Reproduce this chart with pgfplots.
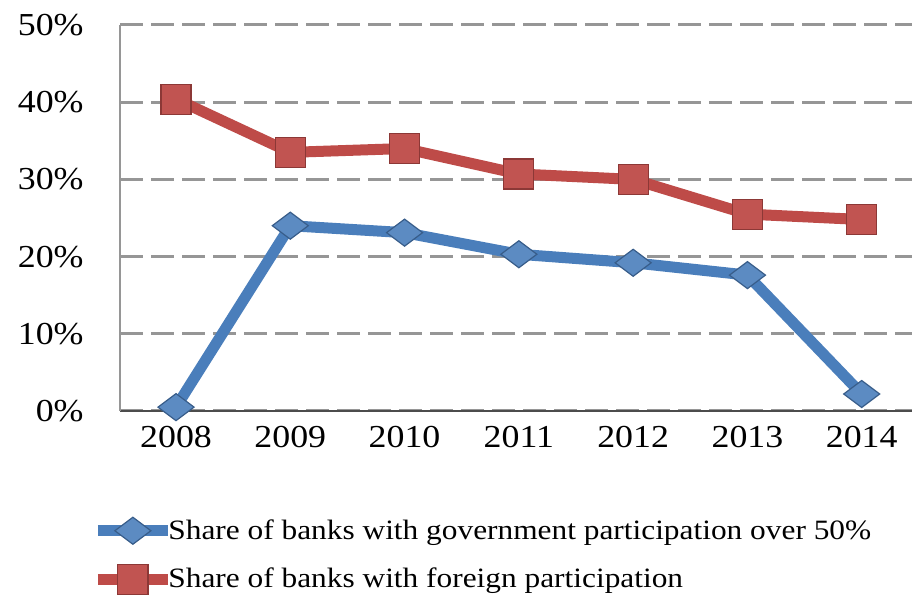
\documentclass[border=0pt]{standalone}
\usepackage{fontspec}
\setmainfont{Liberation Serif}[FakeStretch=1.12]
\usepackage{pgfplots}
\usetikzlibrary{calc}
\pgfplotsset{compat=1.18}
\definecolor{gblue}{HTML}{4A7EBB}
\definecolor{gbluedk}{HTML}{385D8A}
\definecolor{gred}{HTML}{BE4B48}
\definecolor{greddk}{HTML}{8C3836}
\definecolor{gridgray}{HTML}{969696}
\begin{document}
\begin{tikzpicture}
\begin{axis}[name=ax, scale only axis, width=396pt, height=193pt,
  xmin=-0.49, xmax=6.44, ymin=0, ymax=50,
  axis x line=bottom, axis y line=left,
  x axis line style={-, draw=black!70, line width=0.8pt},
  y axis line style={-, draw=gridgray, line width=1pt},
  xtick={0,...,6}, xticklabels={2008,2009,2010,2011,2012,2013,2014},
  ytick={0,10,20,30,40,50}, yticklabels={0\%,10\%,20\%,30\%,40\%,50\%},
  major tick length=0pt,
  tick label style={font=\fontsize{16}{16}\selectfont, inner sep=0pt},
  yticklabel style={xshift=-18pt},
  xticklabel style={yshift=-7.5pt},
  ymajorgrids, major grid style={draw=gridgray, line width=1.5pt, dash pattern=on 11.5pt off 4pt},
  clip=false,
  legend style={at={(axis description cs:0,0)}, anchor=north west, xshift=-14pt, yshift=-52pt,
    draw=none, fill=none, inner sep=0pt, row sep=9pt, font=\fontsize{14}{14}\selectfont,
    cells={anchor=west, inner xsep=0.5pt}},
  legend cell align=left,
  legend image code/.code={\draw[mark repeat=2,mark phase=2,#1] plot coordinates {(0pt,0pt) (17.5pt,0pt) (35pt,0pt)};},
]
\addplot[gblue, line width=5.5pt, mark=diamond*, mark size=9pt,
  mark options={rotate=90, fill=gblue!90!white, draw=gbluedk, line width=0.6pt}]
  coordinates {(0,0.5) (1,24) (2,23.1) (3,20.3) (4,19.2) (5,17.6) (6,2.2)};
\addlegendentry{\hspace*{-4.5pt}Share of banks with government participation over 50\%}
\addplot[gred, line width=5.5pt, mark=square*, mark size=7.5pt,
  mark options={fill=gred!95!white, draw=greddk, line width=0.6pt}]
  coordinates {(0,40.4) (1,33.5) (2,34) (3,30.7) (4,30) (5,25.5) (6,24.8)};
\addlegendentry{\hspace*{-4.5pt}Share of banks with foreign participation}
\end{axis}
\pgfresetboundingbox
\path[use as bounding box] ($(ax.south west)+(-60pt,-94pt)$) rectangle ($(ax.north east)+(0pt,12.5pt)$);
\end{tikzpicture}
\end{document}
